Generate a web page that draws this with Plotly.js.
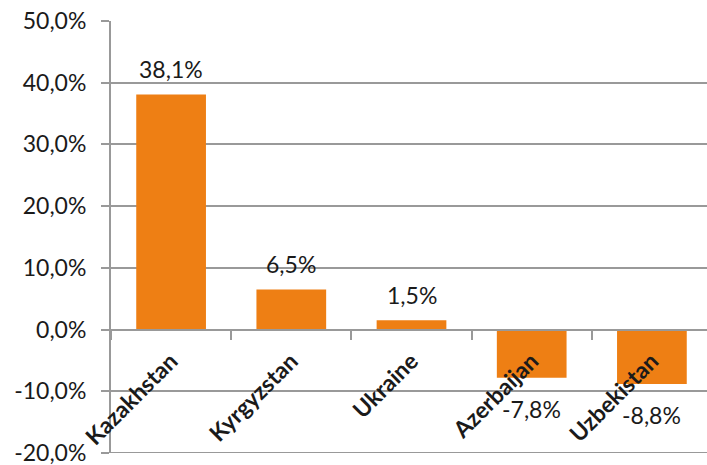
<!DOCTYPE html>
<html>
<head>
<meta charset="utf-8">
<script src="https://cdn.plot.ly/plotly-3.0.1.min.js"></script>
<style>html,body{margin:0;padding:0;background:#fff;}#chart{width:707px;height:465px;}</style>
</head>
<body>
<div id="chart"></div>
<script>
const categories = ["Kazakhstan", "Kyrgyzstan", "Ukraine", "Azerbaijan", "Uzbekistan"];
const values = [38.1, 6.5, 1.5, -7.8, -8.8];
const yTicks = [-20, -10, 0, 10, 20, 30, 40, 50];

const labels = values.map(v => v.toFixed(1).replace('.', ',') + '%');
const tickText = yTicks.map(v => v.toFixed(1).replace('.', ',') + '%');

const FONT = 'Lato, "Open Sans", sans-serif';
const yMin = -20, yMax = 50;

const trace = {
  type: 'bar',
  x: categories,
  y: values,
  marker: {color: '#EE7F14'},
  hoverinfo: 'none'
};

const annotations = categories.map((c, i) => ({
  x: c,
  y: values[i],
  xref: 'x',
  yref: 'y',
  text: labels[i],
  showarrow: false,
  yshift: values[i] >= 0 ? 25 : -31,
  font: {family: FONT, size: 23, color: '#1a1a1a'}
}));

const layout = {
  width: 707,
  height: 465,
  margin: {l: 111, r: 0, t: 21, b: 12, pad: 0},
  paper_bgcolor: '#fff',
  plot_bgcolor: '#fff',
  showlegend: false,
  bargap: 0.42,
  font: {family: FONT, size: 23, color: '#1a1a1a'},
  annotations: annotations,
  shapes: [{
    type: 'line', layer: 'below',
    xref: 'paper', x0: 0, x1: 1,
    yref: 'y', y0: yMin, y1: yMin,
    line: {color: '#999999', width: 2}
  }],
  xaxis: {
    type: 'category',
    range: [-0.5, -0.5 + (707 - 111) / 120.2],
    anchor: 'free',
    position: (0 - yMin) / (yMax - yMin),
    showgrid: false,
    showline: true,
    linecolor: '#999999',
    linewidth: 2,
    ticks: 'outside',
    tickson: 'boundaries',
    ticklen: 9,
    tickwidth: 2,
    tickcolor: '#999999',
    tickangle: -45,
    ticklabelstandoff: 8,
    ticklabeloverflow: 'allow',
    tickfont: {family: FONT, size: 23, color: '#1a1a1a', weight: 'bold'},
    fixedrange: true
  },
  yaxis: {
    range: [yMin, yMax],
    tickvals: yTicks,
    ticktext: tickText,
    showgrid: true,
    gridcolor: '#999999',
    gridwidth: 2,
    zeroline: false,
    showline: true,
    linecolor: '#999999',
    linewidth: 2,
    ticks: 'outside',
    ticklen: 8,
    tickwidth: 2,
    tickcolor: '#999999',
    ticklabeloverflow: 'allow',
    tickfont: {family: FONT, size: 23, color: '#1a1a1a'},
    ticklabelstandoff: 10,
    fixedrange: true
  }
};

Plotly.newPlot('chart', [trace], layout, {displayModeBar: false, staticPlot: true});
</script>
</body>
</html>
